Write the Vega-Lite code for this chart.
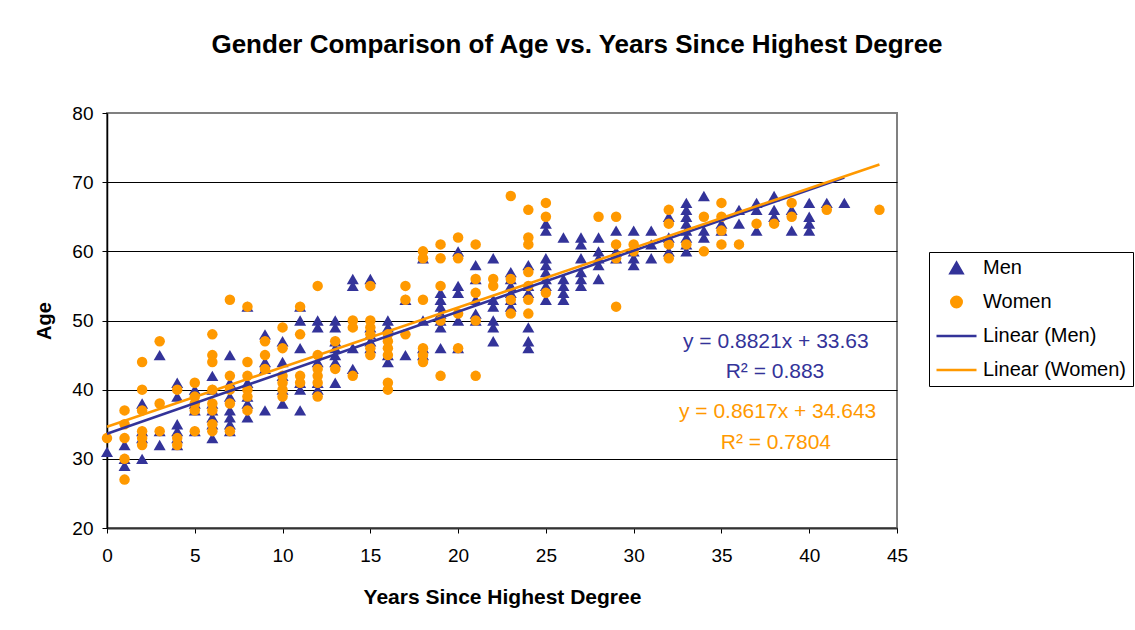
{
  "$schema": "https://vega.github.io/schema/vega-lite/v6.json",
  "width": 790,
  "height": 415,
  "autosize": {"type": "none"},
  "padding": {"left": 107, "top": 113, "right": 238, "bottom": 102},
  "background": "white",
  "title": {
    "text": "Gender Comparison of Age vs. Years Since Highest Degree",
    "font": "Liberation Sans",
    "fontSize": 26,
    "fontWeight": "bold",
    "color": "black",
    "anchor": "middle",
    "frame": "group",
    "dx": 75,
    "offset": 46
  },
  "config": {
    "font": "Liberation Sans",
    "view": {"stroke": "#808080", "strokeWidth": 2},
    "legend": {
      "orient": "none",
      "legendX": 822,
      "legendY": 139,
      "labelFont": "Liberation Sans",
      "labelFontSize": 20,
      "labelColor": "black",
      "strokeColor": "black",
      "fillColor": "white",
      "padding": 6,
      "rowPadding": 14,
      "clipHeight": 20,
      "labelOffset": 5,
      "symbolOpacity": 1,
      "symbolStrokeWidth": 2.5,
      "labelLimit": 300
    }
  },
  "datasets": {
    "pts": [
      {"s":"Men","x":0,"y":31},
      {"s":"Men","x":1,"y":29},{"s":"Men","x":1,"y":30},{"s":"Men","x":1,"y":32},
      {"s":"Men","x":2,"y":38},{"s":"Men","x":2,"y":34},{"s":"Men","x":2,"y":33},{"s":"Men","x":2,"y":30},
      {"s":"Men","x":3,"y":45},{"s":"Men","x":3,"y":34},{"s":"Men","x":3,"y":32},
      {"s":"Men","x":4,"y":41},{"s":"Men","x":4,"y":39},{"s":"Men","x":4,"y":35},{"s":"Men","x":4,"y":34},{"s":"Men","x":4,"y":33},{"s":"Men","x":4,"y":32},
      {"s":"Men","x":5,"y":40},{"s":"Men","x":5,"y":38},{"s":"Men","x":5,"y":37},{"s":"Men","x":5,"y":34},
      {"s":"Men","x":6,"y":42},{"s":"Men","x":6,"y":40},{"s":"Men","x":6,"y":38},{"s":"Men","x":6,"y":37},{"s":"Men","x":6,"y":36},{"s":"Men","x":6,"y":35},{"s":"Men","x":6,"y":33},
      {"s":"Men","x":7,"y":45},{"s":"Men","x":7,"y":41},{"s":"Men","x":7,"y":39},{"s":"Men","x":7,"y":37},{"s":"Men","x":7,"y":36},{"s":"Men","x":7,"y":35},{"s":"Men","x":7,"y":34},
      {"s":"Men","x":8,"y":52},{"s":"Men","x":8,"y":41},{"s":"Men","x":8,"y":39},{"s":"Men","x":8,"y":38},{"s":"Men","x":8,"y":36},
      {"s":"Men","x":9,"y":48},{"s":"Men","x":9,"y":44},{"s":"Men","x":9,"y":43},{"s":"Men","x":9,"y":37},
      {"s":"Men","x":10,"y":47},{"s":"Men","x":10,"y":44},{"s":"Men","x":10,"y":42},{"s":"Men","x":10,"y":40},{"s":"Men","x":10,"y":38},
      {"s":"Men","x":11,"y":52},{"s":"Men","x":11,"y":50},{"s":"Men","x":11,"y":46},{"s":"Men","x":11,"y":41},{"s":"Men","x":11,"y":40},{"s":"Men","x":11,"y":37},
      {"s":"Men","x":12,"y":50},{"s":"Men","x":12,"y":49},{"s":"Men","x":12,"y":44},{"s":"Men","x":12,"y":41},{"s":"Men","x":12,"y":40},
      {"s":"Men","x":13,"y":50},{"s":"Men","x":13,"y":49},{"s":"Men","x":13,"y":47},{"s":"Men","x":13,"y":46},{"s":"Men","x":13,"y":45},{"s":"Men","x":13,"y":44},{"s":"Men","x":13,"y":41},
      {"s":"Men","x":14,"y":56},{"s":"Men","x":14,"y":55},{"s":"Men","x":14,"y":46},{"s":"Men","x":14,"y":43},
      {"s":"Men","x":15,"y":56},{"s":"Men","x":15,"y":49},{"s":"Men","x":15,"y":48},{"s":"Men","x":15,"y":47},{"s":"Men","x":15,"y":46},
      {"s":"Men","x":16,"y":50},{"s":"Men","x":16,"y":49},{"s":"Men","x":16,"y":45},{"s":"Men","x":16,"y":44},
      {"s":"Men","x":17,"y":53},{"s":"Men","x":17,"y":45},
      {"s":"Men","x":18,"y":59},{"s":"Men","x":18,"y":50},{"s":"Men","x":18,"y":46},{"s":"Men","x":18,"y":45},
      {"s":"Men","x":19,"y":54},{"s":"Men","x":19,"y":53},{"s":"Men","x":19,"y":52},{"s":"Men","x":19,"y":51},{"s":"Men","x":19,"y":50},{"s":"Men","x":19,"y":49},{"s":"Men","x":19,"y":46},
      {"s":"Men","x":20,"y":60},{"s":"Men","x":20,"y":55},{"s":"Men","x":20,"y":54},{"s":"Men","x":20,"y":50},{"s":"Men","x":20,"y":46},
      {"s":"Men","x":21,"y":58},{"s":"Men","x":21,"y":56},{"s":"Men","x":21,"y":53},{"s":"Men","x":21,"y":51},{"s":"Men","x":21,"y":50},
      {"s":"Men","x":22,"y":59},{"s":"Men","x":22,"y":53},{"s":"Men","x":22,"y":52},{"s":"Men","x":22,"y":50},{"s":"Men","x":22,"y":49},{"s":"Men","x":22,"y":47},
      {"s":"Men","x":23,"y":57},{"s":"Men","x":23,"y":56},{"s":"Men","x":23,"y":55},{"s":"Men","x":23,"y":54},{"s":"Men","x":23,"y":53},{"s":"Men","x":23,"y":52},
      {"s":"Men","x":24,"y":58},{"s":"Men","x":24,"y":55},{"s":"Men","x":24,"y":54},{"s":"Men","x":24,"y":49},{"s":"Men","x":24,"y":47},{"s":"Men","x":24,"y":46},
      {"s":"Men","x":25,"y":64},{"s":"Men","x":25,"y":63},{"s":"Men","x":25,"y":59},{"s":"Men","x":25,"y":58},{"s":"Men","x":25,"y":57},{"s":"Men","x":25,"y":56},{"s":"Men","x":25,"y":55},{"s":"Men","x":25,"y":53},
      {"s":"Men","x":26,"y":62},{"s":"Men","x":26,"y":56},{"s":"Men","x":26,"y":55},{"s":"Men","x":26,"y":54},{"s":"Men","x":26,"y":53},
      {"s":"Men","x":27,"y":62},{"s":"Men","x":27,"y":61},{"s":"Men","x":27,"y":59},{"s":"Men","x":27,"y":57},{"s":"Men","x":27,"y":56},{"s":"Men","x":27,"y":55},
      {"s":"Men","x":28,"y":62},{"s":"Men","x":28,"y":60},{"s":"Men","x":28,"y":59},{"s":"Men","x":28,"y":58},{"s":"Men","x":28,"y":56},
      {"s":"Men","x":29,"y":63},{"s":"Men","x":29,"y":60},{"s":"Men","x":29,"y":59},
      {"s":"Men","x":30,"y":63},{"s":"Men","x":30,"y":60},{"s":"Men","x":30,"y":59},{"s":"Men","x":30,"y":58},
      {"s":"Men","x":31,"y":63},{"s":"Men","x":31,"y":61},{"s":"Men","x":31,"y":59},
      {"s":"Men","x":32,"y":65},{"s":"Men","x":32,"y":62},{"s":"Men","x":32,"y":60},
      {"s":"Men","x":33,"y":67},{"s":"Men","x":33,"y":66},{"s":"Men","x":33,"y":65},{"s":"Men","x":33,"y":64},{"s":"Men","x":33,"y":63},{"s":"Men","x":33,"y":62},{"s":"Men","x":33,"y":61},{"s":"Men","x":33,"y":60},
      {"s":"Men","x":34,"y":68},{"s":"Men","x":34,"y":63},{"s":"Men","x":34,"y":62},
      {"s":"Men","x":35,"y":64},{"s":"Men","x":35,"y":63},
      {"s":"Men","x":36,"y":66},{"s":"Men","x":36,"y":64},
      {"s":"Men","x":37,"y":67},{"s":"Men","x":37,"y":66},{"s":"Men","x":37,"y":63},
      {"s":"Men","x":38,"y":68},{"s":"Men","x":38,"y":66},{"s":"Men","x":38,"y":65},
      {"s":"Men","x":39,"y":66},{"s":"Men","x":39,"y":63},
      {"s":"Men","x":40,"y":67},{"s":"Men","x":40,"y":65},{"s":"Men","x":40,"y":64},{"s":"Men","x":40,"y":63},
      {"s":"Men","x":41,"y":67},
      {"s":"Men","x":42,"y":67},
      {"s":"Women","x":0,"y":33},
      {"s":"Women","x":1,"y":37},{"s":"Women","x":1,"y":35},{"s":"Women","x":1,"y":33},{"s":"Women","x":1,"y":30},{"s":"Women","x":1,"y":27},
      {"s":"Women","x":2,"y":44},{"s":"Women","x":2,"y":40},{"s":"Women","x":2,"y":37},{"s":"Women","x":2,"y":34},{"s":"Women","x":2,"y":33},{"s":"Women","x":2,"y":32},
      {"s":"Women","x":3,"y":47},{"s":"Women","x":3,"y":38},{"s":"Women","x":3,"y":34},
      {"s":"Women","x":4,"y":40},{"s":"Women","x":4,"y":33},{"s":"Women","x":4,"y":32},
      {"s":"Women","x":5,"y":41},{"s":"Women","x":5,"y":39},{"s":"Women","x":5,"y":38},{"s":"Women","x":5,"y":37},{"s":"Women","x":5,"y":34},
      {"s":"Women","x":6,"y":48},{"s":"Women","x":6,"y":45},{"s":"Women","x":6,"y":44},{"s":"Women","x":6,"y":40},{"s":"Women","x":6,"y":38},{"s":"Women","x":6,"y":37},{"s":"Women","x":6,"y":35},{"s":"Women","x":6,"y":34},
      {"s":"Women","x":7,"y":53},{"s":"Women","x":7,"y":42},{"s":"Women","x":7,"y":40},{"s":"Women","x":7,"y":38},{"s":"Women","x":7,"y":34},
      {"s":"Women","x":8,"y":52},{"s":"Women","x":8,"y":44},{"s":"Women","x":8,"y":42},{"s":"Women","x":8,"y":40},{"s":"Women","x":8,"y":39},{"s":"Women","x":8,"y":37},
      {"s":"Women","x":9,"y":47},{"s":"Women","x":9,"y":45},{"s":"Women","x":9,"y":43},
      {"s":"Women","x":10,"y":49},{"s":"Women","x":10,"y":46},{"s":"Women","x":10,"y":42},{"s":"Women","x":10,"y":41},{"s":"Women","x":10,"y":40},{"s":"Women","x":10,"y":39},
      {"s":"Women","x":11,"y":52},{"s":"Women","x":11,"y":48},{"s":"Women","x":11,"y":42},{"s":"Women","x":11,"y":41},
      {"s":"Women","x":12,"y":55},{"s":"Women","x":12,"y":45},{"s":"Women","x":12,"y":43},{"s":"Women","x":12,"y":42},{"s":"Women","x":12,"y":41},{"s":"Women","x":12,"y":39},
      {"s":"Women","x":13,"y":47},{"s":"Women","x":13,"y":43},
      {"s":"Women","x":14,"y":50},{"s":"Women","x":14,"y":49},{"s":"Women","x":14,"y":42},
      {"s":"Women","x":15,"y":55},{"s":"Women","x":15,"y":50},{"s":"Women","x":15,"y":49},{"s":"Women","x":15,"y":48},{"s":"Women","x":15,"y":46},{"s":"Women","x":15,"y":45},
      {"s":"Women","x":16,"y":48},{"s":"Women","x":16,"y":47},{"s":"Women","x":16,"y":46},{"s":"Women","x":16,"y":45},{"s":"Women","x":16,"y":41},{"s":"Women","x":16,"y":40},
      {"s":"Women","x":17,"y":55},{"s":"Women","x":17,"y":53},{"s":"Women","x":17,"y":48},
      {"s":"Women","x":18,"y":60},{"s":"Women","x":18,"y":59},{"s":"Women","x":18,"y":53},{"s":"Women","x":18,"y":46},{"s":"Women","x":18,"y":45},{"s":"Women","x":18,"y":44},
      {"s":"Women","x":19,"y":61},{"s":"Women","x":19,"y":59},{"s":"Women","x":19,"y":55},{"s":"Women","x":19,"y":50},{"s":"Women","x":19,"y":42},
      {"s":"Women","x":20,"y":62},{"s":"Women","x":20,"y":59},{"s":"Women","x":20,"y":51},{"s":"Women","x":20,"y":46},
      {"s":"Women","x":21,"y":61},{"s":"Women","x":21,"y":56},{"s":"Women","x":21,"y":54},{"s":"Women","x":21,"y":50},{"s":"Women","x":21,"y":42},
      {"s":"Women","x":22,"y":56},{"s":"Women","x":22,"y":55},
      {"s":"Women","x":23,"y":68},{"s":"Women","x":23,"y":56},{"s":"Women","x":23,"y":53},{"s":"Women","x":23,"y":51},
      {"s":"Women","x":24,"y":66},{"s":"Women","x":24,"y":62},{"s":"Women","x":24,"y":61},{"s":"Women","x":24,"y":57},{"s":"Women","x":24,"y":55},{"s":"Women","x":24,"y":53},{"s":"Women","x":24,"y":51},
      {"s":"Women","x":25,"y":67},{"s":"Women","x":25,"y":65},{"s":"Women","x":25,"y":54},
      {"s":"Women","x":28,"y":65},
      {"s":"Women","x":29,"y":65},{"s":"Women","x":29,"y":61},{"s":"Women","x":29,"y":59},{"s":"Women","x":29,"y":52},
      {"s":"Women","x":30,"y":61},{"s":"Women","x":30,"y":60},
      {"s":"Women","x":32,"y":66},{"s":"Women","x":32,"y":64},{"s":"Women","x":32,"y":61},{"s":"Women","x":32,"y":59},
      {"s":"Women","x":33,"y":61},
      {"s":"Women","x":34,"y":65},{"s":"Women","x":34,"y":60},
      {"s":"Women","x":35,"y":67},{"s":"Women","x":35,"y":65},{"s":"Women","x":35,"y":63},{"s":"Women","x":35,"y":61},
      {"s":"Women","x":36,"y":61},
      {"s":"Women","x":37,"y":64},
      {"s":"Women","x":38,"y":64},
      {"s":"Women","x":39,"y":67},{"s":"Women","x":39,"y":65},
      {"s":"Women","x":41,"y":66},
      {"s":"Women","x":44,"y":66}
    ],
    "trend": [
      {"s":"Linear (Men)","x":0,"y":33.63},
      {"s":"Linear (Men)","x":42,"y":70.678},
      {"s":"Linear (Women)","x":0,"y":34.643},
      {"s":"Linear (Women)","x":44,"y":72.558}
    ],
    "eq": [
      {"g":"Men","t":"y = 0.8821x + 33.63"},
      {"g":"Men","t":"R² = 0.883"},
      {"g":"Women","t":"y = 0.8617x + 34.643"},
      {"g":"Women","t":"R² = 0.7804"}
    ]
  },
  "layer": [
    {
      "data": {"name": "pts"},
      "mark": {"type": "point", "filled": false, "opacity": 1, "strokeWidth": 0},
      "encoding": {
        "x": {
          "field": "x",
          "type": "quantitative",
          "scale": {"domain": [0, 45], "nice": false, "zero": false},
          "axis": {
            "values": [0, 5, 10, 15, 20, 25, 30, 35, 40, 45],
            "title": "Years Since Highest Degree",
            "titleFont": "Liberation Sans",
            "titleFontSize": 21,
            "titleFontWeight": "bold",
            "titleColor": "black",
            "titlePadding": 21,
            "labelFont": "Liberation Sans",
            "labelFontSize": 19,
            "labelColor": "black",
            "labelPadding": 13,
            "labelFlush": false,
            "tickSize": 5,
            "tickColor": "black",
            "domainColor": "#333333",
            "domainWidth": 2,
            "grid": false
          }
        },
        "y": {
          "field": "y",
          "type": "quantitative",
          "scale": {"domain": [20, 80], "nice": false, "zero": false},
          "axis": {
            "values": [20, 30, 40, 50, 60, 70, 80],
            "title": "Age",
            "titleFont": "Liberation Sans",
            "titleFontSize": 20,
            "titleFontWeight": "bold",
            "titleColor": "black",
            "titlePadding": 17,
            "labelFont": "Liberation Sans",
            "labelFontSize": 19,
            "labelColor": "black",
            "labelPadding": 9,
            "tickSize": 5,
            "tickColor": "black",
            "domainColor": "black",
            "domainWidth": 1.5,
            "grid": true,
            "gridColor": {"condition": {"test": "datum.value === 80", "value": "#808080"}, "value": "black"},
            "gridWidth": 1
          }
        },
        "color": {
          "field": "s",
          "type": "nominal",
          "scale": {
            "domain": ["Men", "Women", "Linear (Men)", "Linear (Women)"],
            "range": ["#333399", "#FF9900", "#333399", "#FF9900"]
          },
          "legend": {"title": null}
        },
        "fill": {
          "field": "s",
          "type": "nominal",
          "scale": {
            "domain": ["Men", "Women", "Linear (Men)", "Linear (Women)"],
            "range": ["#333399", "#FF9900", "#333399", "#FF9900"]
          },
          "legend": {"title": null}
        },
        "shape": {
          "field": "s",
          "type": "nominal",
          "scale": {
            "domain": ["Men", "Women", "Linear (Men)", "Linear (Women)"],
            "range": ["triangle-up", "circle", "stroke", "stroke"]
          },
          "legend": {"title": null}
        },
        "size": {
          "field": "s",
          "type": "ordinal",
          "scale": {
            "type": "ordinal",
            "domain": ["Men", "Women", "Linear (Men)", "Linear (Women)"],
            "range": [144, 110, 1600, 1600]
          },
          "legend": {"title": null}
        }
      }
    },
    {
      "data": {"name": "trend"},
      "mark": {"type": "line", "strokeWidth": 2.5},
      "encoding": {
        "x": {"field": "x", "type": "quantitative"},
        "y": {"field": "y", "type": "quantitative"},
        "color": {"field": "s", "type": "nominal"},
        "detail": {"field": "s"}
      }
    },
    {
      "data": {"name": "eq"},
      "transform": [{"filter": "datum.t === 'y = 0.8821x + 33.63'"}],
      "mark": {"type": "text", "fontSize": 21, "fill": "#333399", "align": "center", "baseline": "middle"},
      "encoding": {"x": {"datum": 38.1}, "y": {"datum": 46.9}, "text": {"field": "t", "type": "nominal"}}
    },
    {
      "data": {"name": "eq"},
      "transform": [{"filter": "datum.t === 'R² = 0.883'"}],
      "mark": {"type": "text", "fontSize": 21, "fill": "#333399", "align": "center", "baseline": "middle"},
      "encoding": {"x": {"datum": 38.05}, "y": {"datum": 42.55}, "text": {"field": "t", "type": "nominal"}}
    },
    {
      "data": {"name": "eq"},
      "transform": [{"filter": "datum.t === 'y = 0.8617x + 34.643'"}],
      "mark": {"type": "text", "fontSize": 21, "fill": "#FF9900", "align": "center", "baseline": "middle"},
      "encoding": {"x": {"datum": 38.2}, "y": {"datum": 36.77}, "text": {"field": "t", "type": "nominal"}}
    },
    {
      "data": {"name": "eq"},
      "transform": [{"filter": "datum.t === 'R² = 0.7804'"}],
      "mark": {"type": "text", "fontSize": 21, "fill": "#FF9900", "align": "center", "baseline": "middle"},
      "encoding": {"x": {"datum": 38.1}, "y": {"datum": 32.3}, "text": {"field": "t", "type": "nominal"}}
    }
  ]
}
